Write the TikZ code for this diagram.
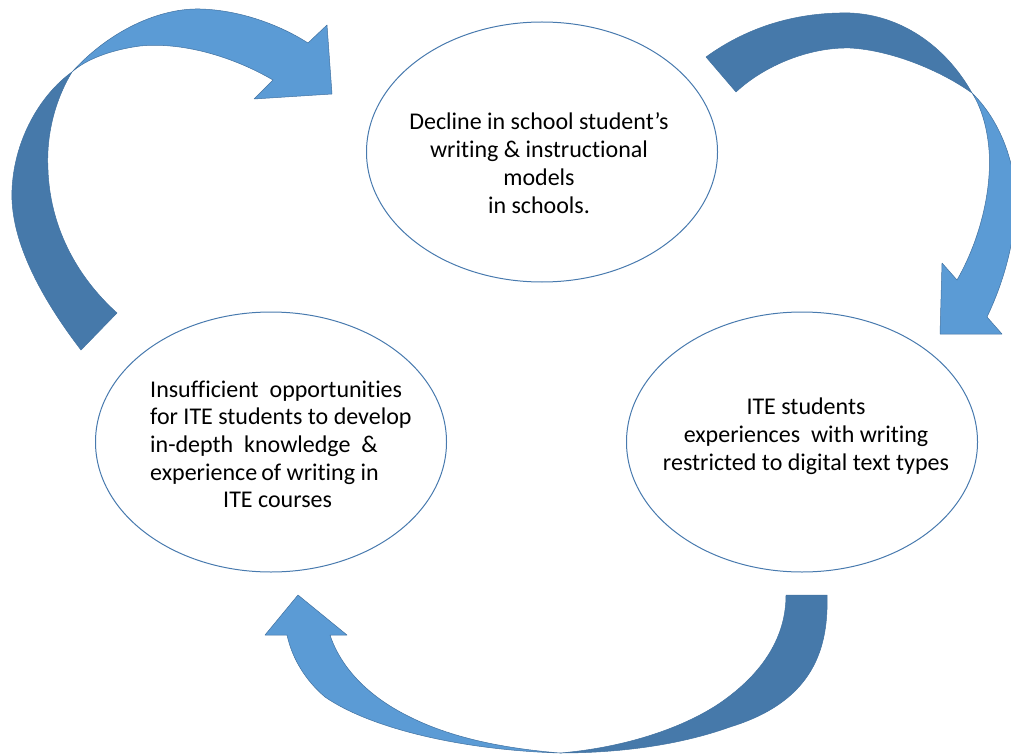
\documentclass[tikz,border=0pt]{standalone}
\usepackage{fontspec}
\setmainfont{Carlito}[Ligatures=NoCommon]
\usetikzlibrary{shapes.geometric}
\definecolor{arrdark}{RGB}{70,121,170}
\definecolor{arrlight}{RGB}{91,155,213}
\definecolor{arredge}{RGB}{65,113,160}
\definecolor{ellline}{RGB}{72,122,174}
\tikzset{
  bubble/.style={ellipse, draw=ellline, line width=1pt, minimum width=351pt, minimum height=260pt, inner sep=0pt},
  txt/.style={font=\fontsize{24}{27.7}\selectfont, inner sep=0pt, text=black},
  darkband/.style={fill=arrdark, draw=arredge, line width=0.5pt, line join=round},
  lightband/.style={fill=arrlight, draw=arredge, line width=0.5pt, line join=round}
}
\begin{document}
\begin{tikzpicture}[x=1pt, y=-1pt]
\useasboundingbox (0,0) rectangle (1011,754);
\begin{scope}
\clip (0,0) rectangle (1011,754);
% top-left curved arrow
\path[darkband] (81,350) .. controls (35,290) and (10,235) .. (12,190)
  .. controls (14,140) and (40,95) .. (72,72)
  .. controls (55,100) and (46,135) .. (48,170)
  .. controls (50,225) and (75,275) .. (117,313) -- cycle;
\path[lightband] (72,72) .. controls (110,30) and (160,8) .. (200,9)
  .. controls (240,10) and (280,25) .. (308,43)
  -- (327,25) -- (332,94) -- (254,99) -- (273,80)
  .. controls (230,55) and (180,42) .. (140,46)
  .. controls (110,50) and (85,60) .. (72,72) -- cycle;
% top-right curved arrow
\path[darkband] (706,57) .. controls (750,25) and (800,12) .. (850,13)
  .. controls (900,15) and (945,45) .. (972,93)
  .. controls (940,70) and (890,50) .. (850,48)
  .. controls (810,47) and (765,65) .. (736,92) -- cycle;
\path[lightband] (972,93) .. controls (1005,125) and (1022,180) .. (1014,228)
  .. controls (1008,270) and (995,300) .. (987,317)
  -- (1002,334) -- (940,334) -- (942,263) -- (957,280)
  .. controls (980,240) and (992,190) .. (989,150)
  .. controls (987,125) and (980,105) .. (972,93) -- cycle;
% bottom curved arrow
\path[darkband] (827,595) .. controls (829,655) and (808,703) .. (730,727)
  .. controls (680,745) and (620,753) .. (560,753)
  .. controls (620,748) and (680,730) .. (720,703)
  .. controls (765,672) and (786,635) .. (786,595) -- cycle;
\path[lightband] (560,753) .. controls (460,750) and (370,728) .. (325,697)
  .. controls (305,680) and (292,658) .. (287,635)
  -- (265,635) -- (298,595) -- (347,635) -- (330,635)
  .. controls (340,665) and (365,695) .. (410,717)
  .. controls (450,737) and (500,748) .. (560,753) -- cycle;
\end{scope}
% ellipses
\node[bubble] (decline) at (542,152) {};
\node[bubble] (insuff) at (271,442) {};
\node[bubble] (ite) at (802,442) {};
% texts
\node[txt, align=center] (declinetext) at (539,166) {\strut Decline in school student’s\\ writing \& instructional\\ models\\ in schools.\strut};
\node[txt, align=left, anchor=west] (insufftext) at (150,447) {\strut Insufficient\ \ opportunities\\ for ITE students to develop\\ in-depth\ \ knowledge\ \ \&\\ experience\,of writing in\\ \hspace*{73pt}ITE courses\strut};
\node[txt, align=center] (itetext) at (806,437) {\strut ITE students\\ experiences\ \ with writing\\ restricted to digital text types\strut};
\end{tikzpicture}
\end{document}
